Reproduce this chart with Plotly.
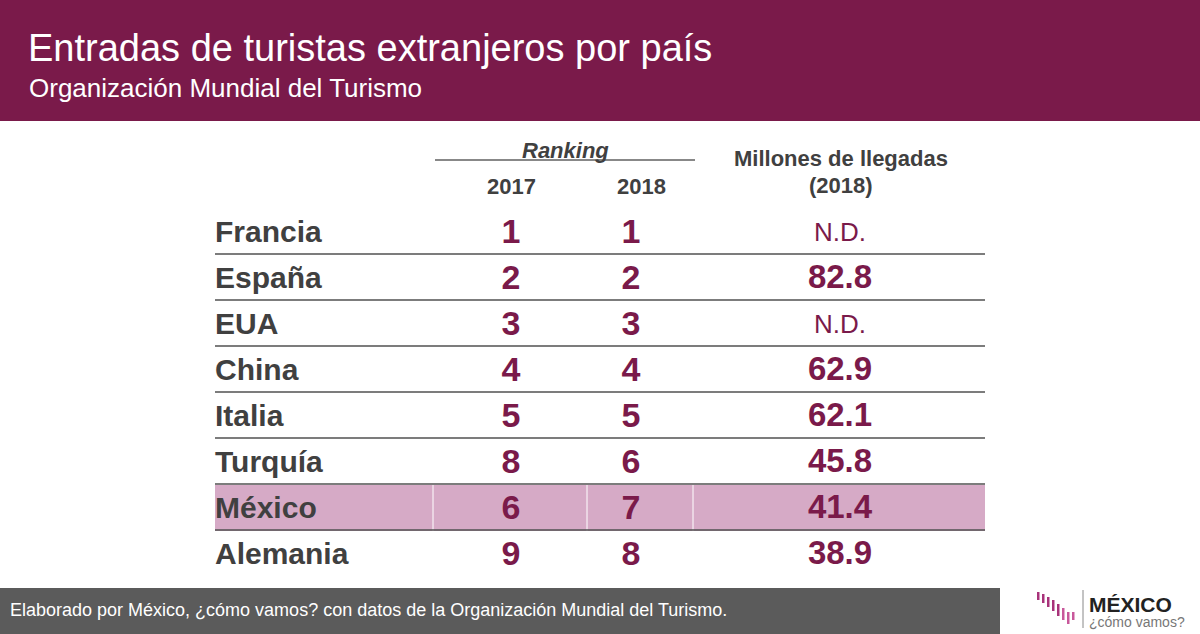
import plotly.graph_objects as go

# datos
paises = ['Francia', 'España', 'EUA', 'China', 'Italia', 'Turquía', 'México', 'Alemania']
rank_2017 = [1, 2, 3, 4, 5, 8, 6, 9]
rank_2018 = [1, 2, 3, 4, 5, 6, 7, 8]
llegadas_2018 = [None, 82.8, None, 62.9, 62.1, 45.8, 41.4, 38.9]

titulo = 'Entradas de turistas extranjeros por país'
subtitulo = 'Organización Mundial del Turismo'
fuente = 'Elaborado por México, ¿cómo vamos? con datos de la Organización Mundial del Turismo.'

vino = '#7a1a4a'
gris_txt = '#404040'
rosa = '#d6aac6'
FONT = 'Arial, Liberation Sans, sans-serif'

W, H = 1200, 634
fila_y0, fila_dy = 232, 46
ys = [fila_y0 + fila_dy * i for i in range(len(paises))]
ys_txt = [y + 2 for y in ys]  # ajuste fino del texto

fig = go.Figure()

# paises
fig.add_scatter(x=[215] * len(paises), y=ys_txt, text=['<b>%s</b>' % p for p in paises],
                mode='text', textposition='middle right',
                textfont=dict(family=FONT, size=30, color=gris_txt), hoverinfo='skip')
# rankings
fig.add_scatter(x=[511] * len(paises), y=ys_txt, text=['<b>%d</b>' % r for r in rank_2017],
                mode='text', textposition='middle center',
                textfont=dict(family=FONT, size=34, color=vino), hoverinfo='skip')
fig.add_scatter(x=[631] * len(paises), y=ys_txt, text=['<b>%d</b>' % r for r in rank_2018],
                mode='text', textposition='middle center',
                textfont=dict(family=FONT, size=34, color=vino), hoverinfo='skip')
# llegadas
txt_lleg = ['N.D.' if v is None else '<b>%.1f</b>' % v for v in llegadas_2018]
tam_lleg = [26 if v is None else 33 for v in llegadas_2018]
fig.add_scatter(x=[840] * len(paises), y=ys_txt, text=txt_lleg,
                mode='text', textposition='middle center',
                textfont=dict(family=FONT, size=tam_lleg, color=vino), hoverinfo='skip')

shapes = []
# banda superior
shapes.append(dict(type='rect', x0=0, x1=W, y0=0, y1=121, fillcolor=vino, line_width=0, layer='below'))
# banda inferior
shapes.append(dict(type='rect', x0=0, x1=1000, y0=588, y1=H, fillcolor='#5b5b5b', line_width=0, layer='below'))
# fila resaltada (Mexico)
i_mx = paises.index('México')
shapes.append(dict(type='rect', x0=215, x1=985, y0=ys[i_mx] - 23, y1=ys[i_mx] + 23,
                   fillcolor=rosa, line_width=0, layer='below'))
for xv in [433, 587, 693]:
    shapes.append(dict(type='line', x0=xv, x1=xv, y0=ys[i_mx] - 23, y1=ys[i_mx] + 23,
                       line=dict(color='white', width=1), layer='below'))
# lineas entre filas
for y in ys[:-1]:
    shapes.append(dict(type='line', x0=215, x1=985, y0=y + 22, y1=y + 22,
                       line=dict(color='#505050', width=1.5)))
# linea ranking
shapes.append(dict(type='line', x0=435, x1=695, y0=160, y1=160, line=dict(color='#606060', width=1.5)))

# logo
barras = [(1037, 592, 600), (1042, 594, 603), (1047, 597, 607), (1052, 600, 611), (1057, 604, 616),
          (1062, 608, 620), (1067, 612, 624), (1072, 612, 620)]
for i, (bx, by0, by1) in enumerate(barras):
    col = '#a8327a' if i < 5 else '#c8589b'
    shapes.append(dict(type='rect', x0=bx, x1=bx + 2.5, y0=by0, y1=by1, fillcolor=col, line_width=0))
shapes.append(dict(type='line', x0=1083, x1=1083, y0=590, y1=628, line=dict(color='#888888', width=1)))

ann = [
    dict(x=26, y=48, text=titulo, font=dict(family=FONT, size=38, color='white'),
         xanchor='left', yanchor='middle'),
    dict(x=27, y=88, text=subtitulo, font=dict(family=FONT, size=26, color='white'),
         xanchor='left', yanchor='middle'),
    dict(x=565, y=150, text='<b><i>Ranking</i></b>', font=dict(family=FONT, size=22, color=gris_txt),
         xanchor='center', yanchor='middle'),
    dict(x=511, y=186, text='<b>2017</b>', font=dict(family=FONT, size=22, color=gris_txt),
         xanchor='center', yanchor='middle'),
    dict(x=641, y=186, text='<b>2018</b>', font=dict(family=FONT, size=22, color=gris_txt),
         xanchor='center', yanchor='middle'),
    dict(x=841, y=158, text='<b>Millones de llegadas</b>', font=dict(family=FONT, size=22, color=gris_txt),
         xanchor='center', yanchor='middle'),
    dict(x=841, y=185, text='<b>(2018)</b>', font=dict(family=FONT, size=22, color=gris_txt),
         xanchor='center', yanchor='middle'),
    dict(x=8, y=610, text=fuente, font=dict(family=FONT, size=18, color='white'),
         xanchor='left', yanchor='middle'),
    dict(x=1087, y=604, text='<b>MÉXICO</b>', font=dict(family=FONT, size=21, color='#222222'),
         xanchor='left', yanchor='middle'),
    dict(x=1087, y=622, text='¿cómo vamos?', font=dict(family=FONT, size=14, color='#777777'),
         xanchor='left', yanchor='middle'),
]
for a in ann:
    a.update(xref='x', yref='y', showarrow=False)

fig.update_layout(
    width=W, height=H,
    margin=dict(l=0, r=0, t=0, b=0),
    paper_bgcolor='white', plot_bgcolor='white',
    showlegend=False,
    xaxis=dict(range=[0, W], visible=False, fixedrange=True),
    yaxis=dict(range=[H, 0], visible=False, fixedrange=True),
    shapes=shapes, annotations=ann,
)

fig.write_html('out.html', config={'displayModeBar': False},
               post_script="document.body.style.margin='0';document.body.style.overflow='hidden';")
